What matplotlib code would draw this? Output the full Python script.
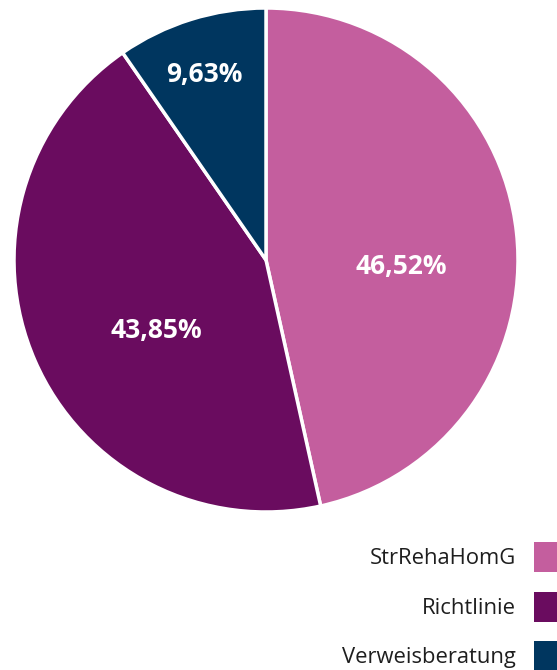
import matplotlib
matplotlib.use("Agg")
import matplotlib.pyplot as plt
from matplotlib.patches import Rectangle
import numpy as np

categories = ["StrRehaHomG", "Richtlinie", "Verweisberatung"]
values = [46.52, 43.85, 9.63]
colors = ["#C45E9E", "#6A0C5F", "#00365F"]
label_radius = [0.537, 0.520, 0.777]
label_angle_offset = [-9.1, 9.2, 0.9]

W, H = 557, 670
fig = plt.figure(figsize=(W / 100, H / 100), dpi=100)
ax = fig.add_axes([14 / W, 1 - 512 / H, 504 / W, 504 / H])
wedges, _ = ax.pie(values, colors=colors, startangle=90, counterclock=False,
                   wedgeprops=dict(edgecolor="white", linewidth=2.5), radius=1)
ax.set_xlim(-1, 1)
ax.set_ylim(-1, 1)
ax.set_aspect("equal")

for w, v, r, off in zip(wedges, values, label_radius, label_angle_offset):
    ang = np.deg2rad((w.theta1 + w.theta2) / 2 + off)
    ax.text(r * np.cos(ang), r * np.sin(ang), f"{v:.2f}%".replace(".", ","),
            ha="center", va="center", color="white", fontsize=19,
            fontweight="bold", family="Open Sans")

ys = [557, 607, 656]
for cat, col, y in zip(categories, colors, ys):
    fig.text(516 / W, 1 - (y + 1) / H, cat, ha="right", va="center",
             fontsize=15.8, color="#1e1e1e", family="Open Sans")
    fig.patches.append(Rectangle((534 / W, 1 - (y + 15) / H), 23 / W, 30 / H,
                                 transform=fig.transFigure, facecolor=col,
                                 edgecolor="none"))

fig.savefig("out.png", dpi=100)
